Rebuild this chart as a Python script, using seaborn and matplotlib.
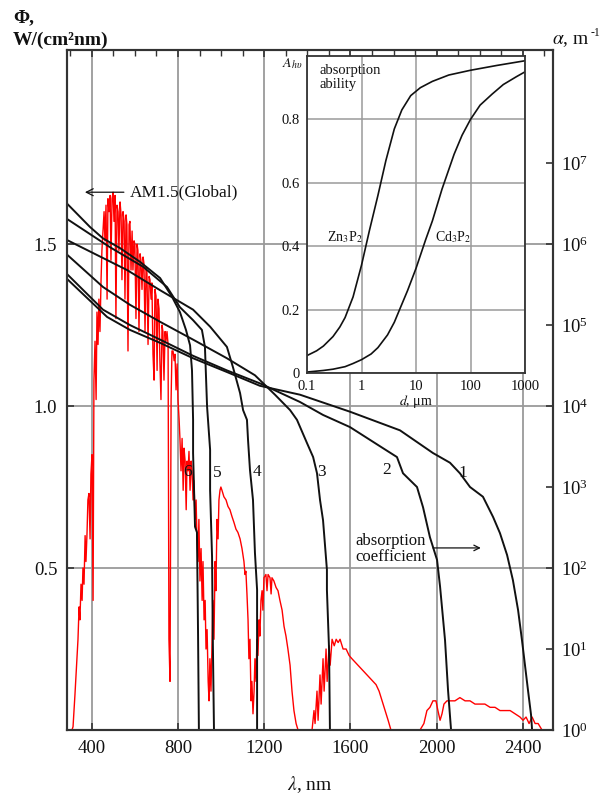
import numpy as np
import pandas as pd
import matplotlib
matplotlib.use("Agg")
import matplotlib.pyplot as plt
import seaborn as sns
from matplotlib.ticker import (MultipleLocator, FixedLocator, NullLocator,
                               LogFormatterMathtext, FixedFormatter)

# ---------------- data ----------------
# AM1.5 (Global) spectrum: wavelength (nm), irradiance Phi
am_lambda = [308, 313, 322, 331, 336, 341, 345, 350, 355, 359, 364, 369, 373, 378, 382, 387, 392, 396, 401, 406,
             410, 415, 420, 424, 429, 433, 438, 443, 447, 452, 457, 461, 466, 471, 475, 480, 485, 489, 494, 499,
             503, 508, 512, 517, 522, 526, 531, 536, 540, 545, 550, 554, 559, 563, 568, 573, 577, 582, 587, 591,
             596, 600, 605, 610, 614, 619, 624, 628, 633, 638, 642, 647, 652, 656, 661, 666, 670, 675, 679, 684,
             689, 693, 698, 703, 707, 712, 716, 721, 726, 730, 735, 740, 744, 749, 754, 758, 763, 768, 772, 777,
             782, 786, 791, 796, 800, 805, 809, 814, 819, 824, 828, 833, 838, 842, 847, 851, 856, 861, 865, 870,
             874, 879, 884, 888, 893, 897, 902, 907, 912, 916, 921, 926, 930, 935, 940, 944, 948, 953, 958, 962,
             967, 972, 976, 981, 986, 990, 995, 999, 1004, 1013, 1023, 1032, 1041, 1050, 1060, 1069, 1078, 1088, 1097, 1106,
             1111, 1115, 1120, 1125, 1129, 1134, 1139, 1143, 1148, 1153, 1157, 1162, 1166, 1171, 1176, 1180, 1185, 1190, 1194, 1199,
             1208, 1213, 1218, 1227, 1232, 1236, 1245, 1255, 1264, 1273, 1283, 1292, 1301, 1310, 1320, 1329, 1338, 1348, 1357, 1422,
             1431, 1436, 1445, 1450, 1459, 1464, 1473, 1478, 1487, 1492, 1501, 1506, 1515, 1525, 1534, 1543, 1552, 1566, 1580, 1594,
             1607, 1621, 1635, 1649, 1663, 1677, 1691, 1705, 1719, 1733, 1747, 1761, 1775, 1788, 1923, 1941, 1955, 1969, 1983, 1997,
             2006, 2016, 2025, 2034, 2048, 2062, 2085, 2108, 2132, 2155, 2178, 2201, 2224, 2248, 2271, 2294, 2317, 2341, 2364, 2387,
             2401, 2415, 2429, 2443, 2457, 2471, 2489, 2508]
am_phi = [0.00, 0.01, 0.11, 0.22, 0.28, 0.38, 0.34, 0.45, 0.40, 0.50, 0.45, 0.60, 0.52, 0.61, 0.71, 0.73, 0.59, 0.79, 0.85, 0.40,
          1.08, 1.20, 1.02, 1.29, 1.19, 1.33, 1.23, 1.39, 1.48, 1.54, 1.60, 1.51, 1.62, 1.33, 1.64, 1.60, 1.65, 1.45, 1.64, 1.66,
          1.57, 1.65, 1.27, 1.62, 1.60, 1.48, 1.63, 1.59, 1.39, 1.60, 1.57, 1.33, 1.59, 1.56, 1.17, 1.56, 1.57, 1.42, 1.54, 1.42,
          1.51, 1.50, 1.27, 1.50, 1.48, 1.23, 1.47, 1.45, 1.36, 1.46, 1.44, 1.23, 1.43, 1.41, 1.19, 1.40, 1.39, 1.33, 1.38, 1.16,
          1.08, 1.36, 1.34, 1.11, 1.33, 1.30, 1.14, 1.02, 1.25, 1.23, 1.08, 1.23, 1.20, 1.23, 1.19, 0.28, 0.15, 1.02, 1.17, 1.17,
          1.14, 1.16, 1.05, 1.13, 1.02, 0.96, 0.90, 0.80, 0.90, 0.74, 0.87, 0.83, 0.68, 0.83, 0.80, 0.86, 0.74, 0.83, 0.80, 0.71,
          0.77, 0.65, 0.71, 0.59, 0.52, 0.65, 0.46, 0.56, 0.40, 0.52, 0.34, 0.40, 0.25, 0.31, 0.15, 0.09, 0.22, 0.12, 0.28, 0.40,
          0.28, 0.52, 0.43, 0.65, 0.59, 0.71, 0.74, 0.75, 0.74, 0.72, 0.71, 0.69, 0.68, 0.66, 0.64, 0.62, 0.61, 0.59, 0.56, 0.52,
          0.48, 0.49, 0.42, 0.34, 0.22, 0.28, 0.09, 0.15, 0.05, 0.12, 0.22, 0.15, 0.28, 0.23, 0.34, 0.29, 0.40, 0.43, 0.37, 0.47,
          0.48, 0.43, 0.48, 0.47, 0.42, 0.47, 0.46, 0.44, 0.43, 0.40, 0.37, 0.32, 0.29, 0.25, 0.20, 0.12, 0.06, 0.02, 0.00, 0.00,
          0.06, 0.02, 0.12, 0.03, 0.17, 0.08, 0.22, 0.12, 0.25, 0.15, 0.26, 0.20, 0.28, 0.26, 0.28, 0.27, 0.28, 0.25, 0.25, 0.23,
          0.22, 0.21, 0.20, 0.19, 0.18, 0.17, 0.16, 0.15, 0.14, 0.12, 0.09, 0.06, 0.03, 0.00, 0.00, 0.02, 0.06, 0.07, 0.09, 0.09,
          0.06, 0.03, 0.05, 0.08, 0.09, 0.09, 0.09, 0.10, 0.09, 0.09, 0.08, 0.08, 0.08, 0.07, 0.07, 0.06, 0.06, 0.06, 0.05, 0.04,
          0.03, 0.04, 0.02, 0.04, 0.02, 0.02, 0.00, 0.00]

# absorption coefficient curves: wavelength (nm), log10(alpha, m^-1)
c1_lambda = [285, 471, 577, 717, 870, 1027, 1180, 1366, 1598, 1830, 1983, 2062, 2108, 2155, 2215, 2262, 2294, 2327,
             2354, 2378, 2396, 2410, 2424, 2438, 2443]
c1_log = [5.57, 5.10, 4.94, 4.78, 4.59, 4.42, 4.25, 4.14, 3.93, 3.70, 3.42, 3.30, 3.17, 3.00, 2.88, 2.63, 2.43, 2.16,
          1.85, 1.48, 1.11, 0.80, 0.49, 0.19, 0.0]
c2_lambda = [285, 452, 577, 717, 870, 1027, 1180, 1366, 1473, 1598, 1751, 1816, 1844, 1909, 1937, 1969, 2002, 2016,
             2039, 2053, 2067]
c2_log = [5.63, 5.19, 5.00, 4.82, 4.62, 4.44, 4.28, 4.05, 3.89, 3.74, 3.48, 3.37, 3.17, 3.00, 2.75, 2.38, 2.10, 1.77,
          1.11, 0.49, 0.0]
c3_lambda = [285, 452, 577, 717, 870, 1027, 1157, 1250, 1320, 1352, 1399, 1427, 1445, 1459, 1473, 1491, 1491, 1501, 1505]
c3_log = [5.87, 5.47, 5.25, 5.04, 4.82, 4.59, 4.38, 4.14, 3.95, 3.83, 3.54, 3.37, 3.17, 2.84, 2.59, 1.98, 1.73, 0.99, 0.0]
c4_lambda = [285, 563, 717, 870, 949, 1027, 1055, 1088, 1102, 1120, 1125, 1134, 1148, 1157, 1167, 1167]
c4_log = [6.05, 5.68, 5.43, 5.19, 4.98, 4.73, 4.48, 4.16, 3.95, 3.83, 3.58, 3.21, 2.84, 2.19, 1.73, 0.0]
c5_lambda = [285, 485, 638, 749, 809, 870, 911, 925, 935, 949, 949, 958, 962, 967]
c5_log = [6.31, 5.96, 5.72, 5.47, 5.22, 5.06, 4.94, 4.73, 3.99, 3.46, 2.96, 2.14, 1.03, 0.0]
c6_lambda = [285, 392, 452, 531, 624, 717, 772, 809, 837, 856, 865, 870, 870, 879, 888, 893, 897]
c6_log = [6.50, 6.21, 6.07, 5.95, 5.78, 5.58, 5.35, 5.16, 4.94, 4.75, 4.44, 3.83, 3.42, 2.51, 2.44, 1.20, 0.0]

curve_names = ["1", "2", "3", "4", "5", "6"]
label_lambda = [2122, 1770, 1468, 1167, 981, 846]
label_phi = [0.793, 0.802, 0.796, 0.796, 0.793, 0.796]

# inset: absorption ability vs thickness
zn_d = [0.1, 0.15, 0.2, 0.3, 0.4, 0.5, 0.7, 1.0, 1.4, 2.0, 2.8, 4.0, 5.5, 8, 12, 20, 40, 100, 300, 1000]
zn_A = [0.055, 0.07, 0.085, 0.115, 0.145, 0.175, 0.24, 0.34, 0.45, 0.56, 0.67, 0.77, 0.83, 0.875, 0.90, 0.92,
        0.94, 0.955, 0.97, 0.985]
cd_d = [0.1, 0.2, 0.3, 0.5, 0.7, 1.0, 1.5, 2.0, 3.0, 4.0, 5.0, 7, 10, 15, 20, 30, 50, 70, 100, 150, 250, 400,
        700, 1000]
cd_A = [0.003, 0.008, 0.012, 0.02, 0.03, 0.042, 0.06, 0.08, 0.12, 0.16, 0.20, 0.26, 0.33, 0.42, 0.48, 0.58,
        0.69, 0.75, 0.80, 0.845, 0.88, 0.91, 0.935, 0.95]

x_ticks = [400, 800, 1200, 1600, 2000, 2400]
phi_ticks = [0.5, 1.0, 1.5]
phi_ticklabels = ["0.5", "1.0", "1.5"]

# ---------------- style ----------------
sns.set_style("ticks")
plt.rcParams["font.family"] = ["Liberation Serif", "DejaVu Serif"]
plt.rcParams["mathtext.fontset"] = "stix"

GRID = "#9a9a9a"
SPINE = "#333333"
INK = "#111111"

fig = plt.figure(figsize=(6, 7.98), dpi=100)
ax = fig.add_axes([67 / 600, 68 / 798, 486 / 600, 680 / 798])

XMIN, XMAX = 285, 2540
PHI_TOP = 2.099
ax.set_xlim(XMIN, XMAX)
ax.set_ylim(0, PHI_TOP)

# red AM1.5 spectrum
sns.lineplot(x=am_lambda, y=am_phi, ax=ax, color="#ff0000", lw=1.0,
             sort=False, estimator=None, legend=False, zorder=3)

ax.set_xticks(x_ticks)
ax.set_xticklabels([str(v) for v in x_ticks])
ax.set_yticks(phi_ticks)
ax.set_yticklabels(phi_ticklabels)
ax.xaxis.set_minor_locator(MultipleLocator(100))
ax.grid(True, which="major", color=GRID, lw=1.3)
ax.set_axisbelow(True)
ax.tick_params(axis="both", which="major", direction="in", length=5, width=1.2,
               labelsize=13.5, colors=SPINE, labelcolor=INK)
ax.tick_params(axis="x", which="major", top=True, pad=7)
ax.tick_params(axis="x", which="minor", top=True, bottom=False, direction="in",
               length=4, width=1.0, colors=SPINE)
ax.tick_params(axis="y", pad=7)
for s in ax.spines.values():
    s.set_color(SPINE)
    s.set_linewidth(1.5)
ax.set_xlabel("")
ax.set_ylabel("")

# twin log axis for alpha
ax2 = ax.twinx()
ax2.set_yscale("log")
ax2.set_ylim(1, 10 ** (4 * PHI_TOP))
curves = [(c1_lambda, c1_log), (c2_lambda, c2_log), (c3_lambda, c3_log),
          (c4_lambda, c4_log), (c5_lambda, c5_log), (c6_lambda, c6_log)]
for lam, lg in curves:
    sns.lineplot(x=lam, y=np.power(10.0, lg), ax=ax2, color=INK, lw=1.4,
                 sort=False, estimator=None, legend=False)
ax2.set_xlim(XMIN, XMAX)
ax2.yaxis.set_major_locator(FixedLocator([10.0 ** k for k in range(8)]))
ax2.yaxis.set_minor_locator(NullLocator())
ax2.yaxis.set_major_formatter(LogFormatterMathtext())
ax2.tick_params(axis="y", which="major", direction="in", length=5, width=1.2,
                labelsize=13.5, colors=SPINE, labelcolor=INK, pad=6)
ax2.set_ylabel("")
for s in ax2.spines.values():
    s.set_color(SPINE)
    s.set_linewidth(1.5)

# curve labels
for name, lx, ly in zip(curve_names, label_lambda, label_phi):
    ax.text(lx, ly, name, fontsize=12.5, ha="center", va="center", color=INK, zorder=6)

# annotations
ax.annotate("AM1.5(Global)", xy=(368, 1.66), xytext=(577, 1.66),
            fontsize=12.5, ha="left", va="center", color=INK,
            arrowprops=dict(arrowstyle="->", color=INK, lw=0.9, shrinkA=2, shrinkB=0))
ax.text(1621, 0.559, "absorption\ncoefficient", fontsize=12, ha="left", va="center",
        color=INK, linespacing=1.05)
ax.annotate("", xy=(2205, 0.562), xytext=(1983, 0.562),
            arrowprops=dict(arrowstyle="->", color=INK, lw=0.9, shrinkA=0, shrinkB=0))

# axis titles
fig.text(13 / 600, 1 - 22 / 798, "Φ,", fontsize=14, fontweight="bold", ha="left",
         va="baseline", color=INK)
fig.text(13 / 600, 1 - 45 / 798, "W/(cm²nm)", fontsize=14, fontweight="bold",
         ha="left", va="baseline", color=INK)
fig.text(552 / 600, 1 - 44 / 798, r"$\alpha$, m", fontsize=14,
         ha="left", va="baseline", color=INK)
fig.text(591 / 600, 1 - 36 / 798, "-1", fontsize=8.5,
         ha="left", va="baseline", color=INK)
fig.text(310 / 600, 1 - 790 / 798, r"$\lambda$, nm", fontsize=14,
         ha="center", va="baseline", color=INK)

# ---------------- inset ----------------
axi = fig.add_axes([307 / 600, (798 - 373) / 798, 218 / 600, 317 / 798], zorder=5)
axi.set_facecolor("white")
sns.lineplot(x=zn_d, y=zn_A, ax=axi, color=INK, lw=1.2, sort=False,
             estimator=None, legend=False)
sns.lineplot(x=cd_d, y=cd_A, ax=axi, color=INK, lw=1.2, sort=False,
             estimator=None, legend=False)
axi.set_xscale("log")
axi.set_xlim(0.1, 1000)
axi.set_ylim(0, 1.0)
axi.xaxis.set_major_locator(FixedLocator([0.1, 1, 10, 100, 1000]))
axi.xaxis.set_major_formatter(FixedFormatter(["0.1", "1", "10", "100", "1000"]))
axi.xaxis.set_minor_locator(NullLocator())
axi.set_yticks([0, 0.2, 0.4, 0.6, 0.8])
axi.set_yticklabels(["0", "0.2", "0.4", "0.6", "0.8"])
axi.grid(True, which="major", color=GRID, lw=1.1)
axi.tick_params(axis="both", length=0, labelsize=10.5, labelcolor=INK)
axi.tick_params(axis="x", pad=5)
axi.tick_params(axis="y", pad=5)
for s in axi.spines.values():
    s.set_color(SPINE)
    s.set_linewidth(1.3)
axi.set_xlabel(r"$d$, μm", fontsize=10, labelpad=0, color=INK)
axi.set_ylabel("")
axi.text(-0.115, 0.975, r"$A_{h\upsilon}$", transform=axi.transAxes, fontsize=10,
         ha="left", va="center", color=INK)
axi.text(0.17, 0.975, "absorption\nability", fontsize=10.5, ha="left", va="top",
         color=INK, linespacing=1.1)
axi.text(0.23, 0.43, r"Zn$_3$P$_2$", fontsize=10, ha="left", va="center", color=INK)
axi.text(22, 0.43, r"Cd$_3$P$_2$", fontsize=10, ha="left", va="center", color=INK)

fig.savefig("out.png", dpi=100)
